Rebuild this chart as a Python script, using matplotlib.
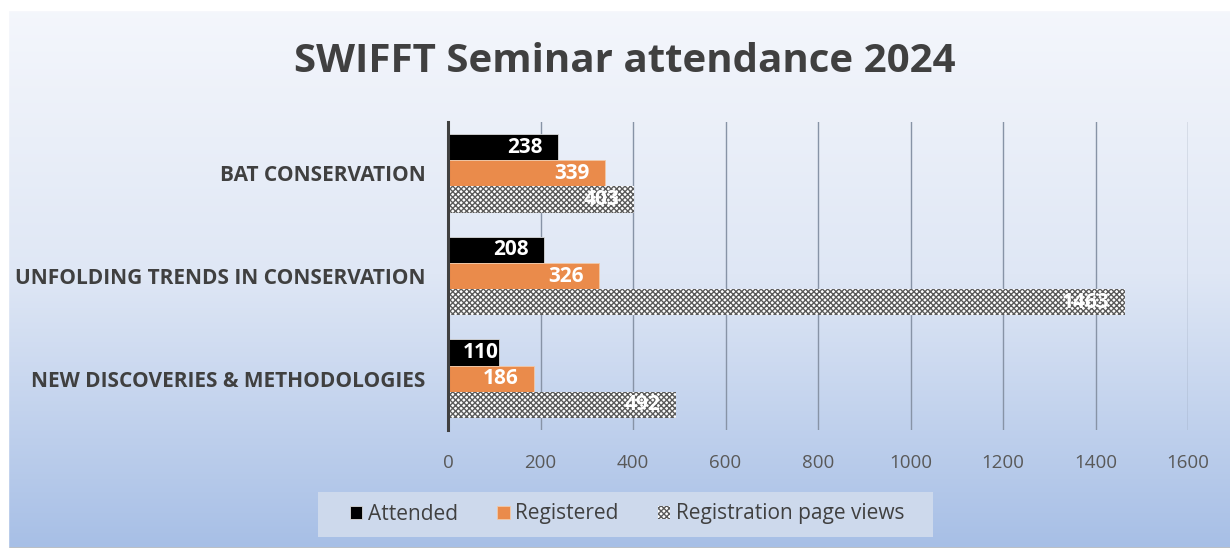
import numpy as np
import matplotlib.pyplot as plt
from matplotlib.colors import LinearSegmentedColormap
from matplotlib.patches import Rectangle

categories = ["NEW DISCOVERIES & METHODOLOGIES", "UNFOLDING TRENDS IN CONSERVATION", "BAT CONSERVATION"]
attended = [110, 208, 238]
registered = [186, 326, 339]
page_views = [492, 1463, 403]
ticks = [0, 200, 400, 600, 800, 1000, 1200, 1400, 1600]

plt.rcParams['font.family'] = ['Open Sans', 'DejaVu Sans']

fig = plt.figure(figsize=(12.3, 5.48), dpi=100)

# gradient background for the whole chart
bg = fig.add_axes([0, 0, 1, 1], zorder=-10)
cmap = LinearSegmentedColormap.from_list("bg", ["#f5f7fc", "#dfe7f5", "#a7bfe6"])
grad = np.linspace(0, 1, 256).reshape(-1, 1)
bg.imshow(grad, aspect="auto", cmap=cmap, extent=[0, 1, 0, 1], origin="upper")
bg.add_patch(Rectangle((8 / 1230, 0), 1, 1 - 10 / 548, fill=False, edgecolor="#bfbfbf", lw=1.2))
bg.fill_between([0, 8 / 1230], 0, 1, color="white")
bg.fill_between([0, 1], 1 - 10 / 548, 1, color="white")
# legend panel
bg.add_patch(Rectangle((318 / 1230, 1 - 537 / 548), 615 / 1230, 45 / 548, color="#cdd9ec", lw=0))
bg.set_xlim(0, 1)
bg.set_ylim(0, 1)
bg.axis("off")

ax = fig.add_axes([448 / 1230, 1 - 430 / 548, 740 / 1230, 308 / 548])
ax.patch.set_alpha(0)

y = np.arange(len(categories))
h = 0.255
ax.barh(y + h, attended, height=h, color="black", edgecolor="#d9d9d9", lw=0.6, label="Attended", zorder=3)
ax.barh(y, registered, height=h, color="#ea8b4b", edgecolor="#f2c9a8", lw=0.6, label="Registered", zorder=3)
ax.barh(y - h, page_views, height=h, color="white", edgecolor="#5a5a5a", hatch="xxxxxx", lw=0,
        label="Registration page views", zorder=3)

# labels sit inside the bar end, about 15 px in (less when the bar is short)
px = 1600 / 740
for vals, off in [(attended, h), (registered, 0), (page_views, -h)]:
    for yi, v in zip(y, vals):
        inset = 15 * px if v > 150 else 0
        ax.text(v - inset, yi + off, str(v), ha="right", va="center",
                color="white", fontsize=15, fontweight="bold", zorder=4)

ax.set_xlim(0, 1600)
ax.set_ylim(-0.5, 2.5)
ax.set_xticks(ticks)
ax.tick_params(axis="x", length=0, labelsize=13.5, colors="#595959", pad=17)
ax.set_yticks(y)
ax.set_yticklabels(categories, fontsize=15, fontweight="bold", color="#404040")
ax.tick_params(axis="y", length=0, pad=16)
ax.grid(axis="x", color="#8793a6", lw=1, zorder=0)
for s in ["top", "right", "bottom"]:
    ax.spines[s].set_visible(False)
ax.spines["left"].set_color("#404040")
ax.spines["left"].set_linewidth(2.2)
ax.spines["left"].set_zorder(5)

fig.text(625 / 1230, 1 - 62 / 548, "SWIFFT Seminar attendance 2024", ha="center", va="center",
         fontsize=29, fontweight="bold", color="#404040")

leg = fig.legend(loc="center", bbox_to_anchor=(627 / 1230, 1 - 514 / 548), ncol=3, frameon=False,
                 fontsize=15, handlelength=0.6, handleheight=0.6, handletextpad=0.25,
                 columnspacing=1.9, borderaxespad=0)
for t in leg.get_texts():
    t.set_color("#404040")

fig.savefig("out.png", dpi=100)
